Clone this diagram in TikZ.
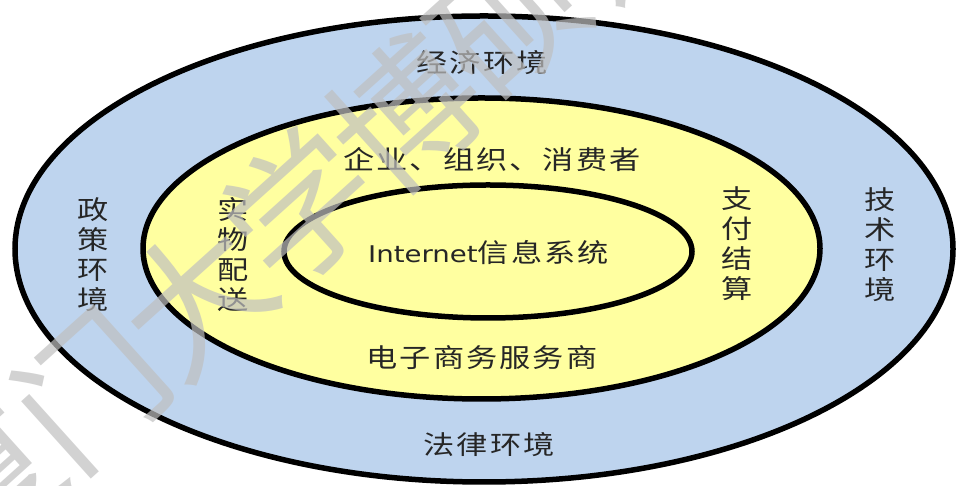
\documentclass[tikz,border=0pt]{standalone}
\usepackage{fontspec}
\usetikzlibrary{shapes.geometric}
\newfontfamily\cjkf[FakeStretch=1.2,LetterSpace=8]{Noto Sans CJK SC}
\newfontfamily\cjkv[FakeStretch=1.2]{Noto Sans CJK SC}
\newfontfamily\latf[FakeStretch=1.2]{DejaVu Sans}
\newfontfamily\wmf{Noto Sans CJK SC}
\definecolor{ringblue}{RGB}{190,212,238}
\definecolor{ringyellow}{RGB}{255,255,160}
\begin{document}
\begin{tikzpicture}[x=1pt,y=1pt,
  ring/.style={ellipse, draw=black, line width=5.5pt, inner sep=0pt, outer sep=0pt},
  lab/.style={inner sep=0pt, text=black!85, font=\cjkf\fontsize{26}{30}\selectfont},
  vlab/.style={inner sep=0pt, align=center, text=black!85, font=\cjkv\fontsize{26}{30}\selectfont},
  wm/.style={inner sep=0pt, rotate=42, text=black!25, text opacity=0.7, font=\wmf\fontsize{145}{145}\selectfont}]
\useasboundingbox (0,0) rectangle (956,486);
\clip (0,0) rectangle (956,486);
% rings
\node[ring, fill=ringblue, minimum width=938pt, minimum height=466pt] (outer) at (484,237) {};
\node[ring, fill=ringyellow, minimum width=677pt, minimum height=301pt] (middle) at (481.5,237.5) {};
\node[ring, fill=ringyellow, minimum width=408pt, minimum height=133pt] (inner) at (488,234.5) {};
% labels
\node[lab] (econ) at (482,423) {经济环境};
\node[lab] (orgs) at (492,326) {企业、组织、消费者};
\node[inner sep=0pt, text=black!85] (core) at (488.5,233) {{\latf\fontsize{23}{28}\selectfont Internet}{\cjkf\fontsize{26}{30}\selectfont 信息系统}};
\node[lab] (prov) at (482,128) {电子商务服务商};
\node[lab] (law) at (489,41) {法律环境};
\node[vlab] (policy) at (93,231) {政\\策\\环\\境};
\node[vlab] (logi) at (233,231) {实\\物\\配\\送};
\node[vlab] (pay) at (737,242) {支\\付\\结\\算};
\node[vlab] (tech) at (880,241) {技\\术\\环\\境};
% watermark
\node[wm] (w1) at (-15,4) {厦};
\node[wm] (w2) at (90,96) {门};
\node[wm] (w3) at (195,188) {大};
\node[wm] (w4) at (300,280) {学};
\node[wm] (w5) at (405,372) {博};
\node[wm] (w6) at (510,464) {硕};
\node[wm] (w7) at (615,556) {论};
\end{tikzpicture}
\end{document}
